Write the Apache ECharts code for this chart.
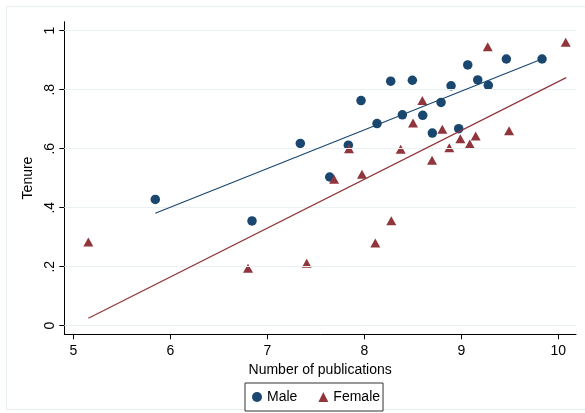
<!DOCTYPE html>
<html>
<head>
<meta charset="utf-8">
<script src="https://cdn.jsdelivr.net/npm/echarts@6/dist/echarts.min.js"></script>
<style>
html,body{margin:0;padding:0;background:#fff;}
#chart{width:585px;height:413px;}
</style>
</head>
<body>
<div id="chart"></div>
<script>
const maleX = [7.340, 7.966, 8.272, 8.495, 8.131, 8.392, 8.602, 8.791, 8.894, 9.066, 9.169, 9.278, 9.464, 9.832, 8.701, 8.973, 7.835, 7.643, 5.845, 6.842];
const maleY = [0.618, 0.763, 0.829, 0.832, 0.685, 0.715, 0.713, 0.757, 0.813, 0.884, 0.833, 0.815, 0.904, 0.904, 0.653, 0.668, 0.612, 0.504, 0.428, 0.355];
const femaleX = [9.272, 10.076, 8.598, 8.502, 8.804, 9.492, 8.990, 9.148, 9.087, 8.876, 8.375, 7.842, 8.698, 7.976, 7.688, 8.278, 8.113, 7.406, 5.155, 6.801];
const femaleY = [0.946, 0.961, 0.763, 0.687, 0.666, 0.661, 0.634, 0.643, 0.616, 0.603, 0.598, 0.600, 0.561, 0.513, 0.496, 0.356, 0.280, 0.212, 0.284, 0.195];
const maleFitX = [5.845, 9.832];
const maleFitY = [0.381, 0.904];
const femaleFitX = [5.155, 10.081];
const femaleFitY = [0.025, 0.841];
const xTicks = [5, 6, 7, 8, 9, 10];
const yTicks = [0, 0.2, 0.4, 0.6, 0.8, 1];
const yTickLabels = ['0', '.2', '.4', '.6', '.8', '1'];
const seriesNames = ['Male', 'Female'];

const NAVY = '#1a476f', MAROON = '#90353b';
const FONT = 'Liberation Sans, Arial, Helvetica, sans-serif';
const zip = (a, b) => a.map((v, i) => [v, b[i]]);

const chart = echarts.init(document.getElementById('chart'), null, {renderer: 'canvas'});
chart.setOption({
  animation: false,
  backgroundColor: '#ffffff',
  textStyle: {fontFamily: FONT},
  graphic: [{
    type: 'rect', silent: true, z: -10,
    shape: {x: 6.5, y: 6.5, width: 600, height: 403},
    style: {fill: 'none', stroke: '#e6eef1', lineWidth: 1}
  }],
  grid: {left: 64.3, top: 21.7, width: 511.7, height: 312.6, containLabel: false},
  xAxis: {
    type: 'value', min: 4.907, max: 10.182,
    name: 'Number of publications', nameLocation: 'middle', nameGap: 26,
    nameTextStyle: {fontSize: 14, color: '#000', fontFamily: FONT},
    axisLine: {show: true, onZero: false, lineStyle: {color: '#000', width: 1}},
    axisTick: {show: true, length: 5, customValues: xTicks, lineStyle: {color: '#000'}},
    axisLabel: {customValues: xTicks, fontSize: 14, color: '#000', margin: 10, fontFamily: FONT},
    splitLine: {show: false}
  },
  yAxis: {
    type: 'value', min: -0.0292, max: 1.0305,
    name: 'Tenure', nameLocation: 'middle', nameGap: 23, nameRotate: 90,
    nameTextStyle: {fontSize: 14, color: '#000', fontFamily: FONT},
    axisLine: {show: true, onZero: false, lineStyle: {color: '#000', width: 1}},
    axisTick: {show: true, length: 5, customValues: yTicks, lineStyle: {color: '#000'}},
    axisLabel: {
      customValues: yTicks, fontSize: 14, color: '#000', margin: 7, rotate: 90, fontFamily: FONT,
      formatter: v => { const i = yTicks.findIndex(t => Math.abs(t - v) < 1e-6); return i >= 0 ? yTickLabels[i] : ''; }
    },
    splitLine: {show: false}
  },
  legend: {
    left: 245, top: 383,
    orient: 'horizontal',
    padding: [7, 3, 7, 7],
    itemGap: 21,
    itemWidth: 10, itemHeight: 10,
    borderColor: '#333', borderWidth: 1,
    backgroundColor: '#fff',
    selectedMode: false,
    textStyle: {fontSize: 14, color: '#000', fontFamily: FONT},
    data: [
      {name: seriesNames[0], icon: 'circle'},
      {name: seriesNames[1], icon: 'triangle'}
    ]
  },
  series: [
    {
      name: 'grid', type: 'line', data: [], silent: true,
      markLine: {
        silent: true, symbol: 'none', label: {show: false},
        lineStyle: {color: '#e9f1f3', width: 1, type: 'solid'},
        data: yTicks.map(t => ({yAxis: t}))
      }
    },
    {
      name: seriesNames[0], type: 'scatter', symbol: 'circle', symbolSize: 9.5,
      itemStyle: {color: NAVY, opacity: 1},
      data: zip(maleX, maleY), z: 3
    },
    {
      name: seriesNames[1], type: 'scatter', symbol: 'triangle', symbolSize: [10, 9],
      itemStyle: {color: MAROON, opacity: 1},
      data: zip(femaleX, femaleY), z: 4
    },
    {
      name: 'maleFit', type: 'line', data: zip(maleFitX, maleFitY),
      symbol: 'none', lineStyle: {color: NAVY, width: 1.2}, z: 5, silent: true
    },
    {
      name: 'femaleFit', type: 'line', data: zip(femaleFitX, femaleFitY),
      symbol: 'none', lineStyle: {color: MAROON, width: 1.2}, z: 5, silent: true
    }
  ]
});
</script>
</body>
</html>
